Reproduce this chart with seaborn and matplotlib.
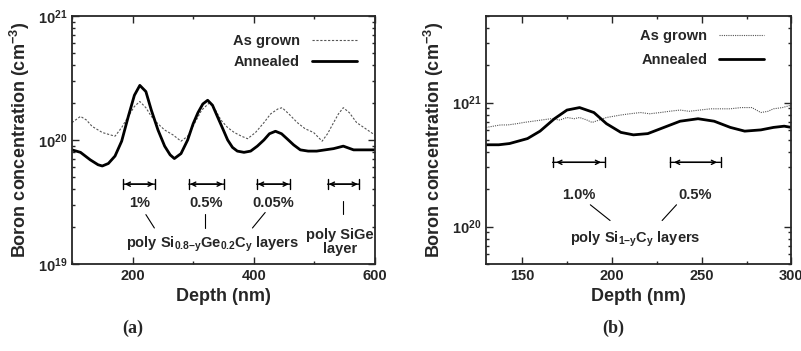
import numpy as np
import pandas as pd
import matplotlib
matplotlib.use("Agg")
import matplotlib.pyplot as plt
import seaborn as sns
from matplotlib.ticker import MultipleLocator, LogLocator, NullFormatter

# panel (a): depth (nm) and log10 of boron concentration
a_ann_x = [100, 114, 130, 143, 150, 160, 171, 182, 193, 203, 212, 222, 231, 242, 253, 262, 269, 280, 291,
           300, 308, 316, 324, 332, 340, 349, 357, 365, 373, 384, 395, 406, 417, 426, 436, 446, 455, 466,
           477, 490, 504, 518, 532, 548, 565, 582, 600]
a_ann_y = [19.92, 19.90, 19.84, 19.80, 19.79, 19.81, 19.87, 19.99, 20.19, 20.36, 20.44, 20.39, 20.24, 20.08,
           19.95, 19.88, 19.85, 19.89, 20.00, 20.13, 20.22, 20.29, 20.32, 20.28, 20.19, 20.09, 20.00, 19.94,
           19.91, 19.90, 19.91, 19.95, 20.00, 20.05, 20.07, 20.05, 20.01, 19.96, 19.92, 19.91, 19.91, 19.92,
           19.93, 19.95, 19.92, 19.92, 19.92]
a_grown_x = [100, 114, 124, 133, 150, 171, 182, 193, 203, 212, 222, 231, 242, 253, 267, 280, 291, 302, 314,
             327, 337, 346, 357, 368, 380, 390, 403, 417, 428, 440, 447, 458, 472, 485, 499, 513, 522, 532,
             540, 548, 558, 570, 585, 600]
a_grown_y = [20.14, 20.19, 20.16, 20.11, 20.06, 20.03, 20.10, 20.19, 20.27, 20.31, 20.26, 20.19, 20.13, 20.08,
             20.04, 19.99, 20.03, 20.13, 20.24, 20.30, 20.24, 20.16, 20.10, 20.06, 20.03, 20.01, 20.06, 20.14,
             20.21, 20.25, 20.26, 20.21, 20.14, 20.09, 20.06, 19.99, 20.05, 20.14, 20.21, 20.26, 20.22, 20.14,
             20.09, 20.04]

# panel (b)
b_ann_x = [130, 137, 143, 148, 153, 160, 168, 175, 182, 190, 197, 205, 212, 220, 229, 238, 248, 257,
           266, 274, 283, 290, 296, 300]
b_ann_y = [20.66, 20.66, 20.67, 20.69, 20.71, 20.77, 20.87, 20.94, 20.96, 20.92, 20.83, 20.76, 20.74,
           20.75, 20.80, 20.85, 20.87, 20.85, 20.80, 20.77, 20.78, 20.80, 20.81, 20.80]
b_grown_x = [130, 134, 138, 142, 147, 151, 156, 161, 166, 171, 175, 179, 182, 186, 189, 193, 197, 201,
             205, 210, 216, 221, 227, 232, 238, 243, 249, 255, 261, 266, 272, 278, 283, 287, 290, 295, 300]
b_grown_y = [20.80, 20.81, 20.82, 20.82, 20.83, 20.84, 20.85, 20.86, 20.87, 20.86, 20.88, 20.87, 20.88,
             20.86, 20.84, 20.86, 20.88, 20.89, 20.90, 20.91, 20.92, 20.91, 20.92, 20.93, 20.94, 20.93,
             20.94, 20.95, 20.95, 20.95, 20.96, 20.96, 20.92, 20.93, 20.95, 20.96, 20.98]

a_brackets = [(185, 237), (293, 351), (405, 460), (522, 574)]
a_labels = ["1%", "0.5%", "0.05%"]
b_brackets = [(167, 196), (232.6, 260.6)]
b_labels = ["1.0%", "0.5%"]

sns.set_style("ticks")
plt.rcParams['font.family'] = ['Liberation Sans', 'DejaVu Sans']
plt.rcParams['font.weight'] = 'bold'
plt.rcParams['mathtext.fontset'] = 'custom'
plt.rcParams['mathtext.rm'] = 'Liberation Sans:bold'
plt.rcParams['mathtext.it'] = 'Liberation Sans:bold'
plt.rcParams['mathtext.bf'] = 'Liberation Sans:bold'
plt.rcParams['mathtext.default'] = 'rm'

fig = plt.figure(figsize=(8.01, 3.51), dpi=100)
ax1 = fig.add_axes([0.0899, 0.248, 0.378, 0.7066])
ax2 = fig.add_axes([0.607, 0.248, 0.381, 0.7066])


def draw(ax, gx, gy, anx, any_, grown_ls, grown_lw, anchor, spacing):
    dg = pd.DataFrame({"Depth": gx, "B": np.power(10.0, gy)})
    da = pd.DataFrame({"Depth": anx, "B": np.power(10.0, any_)})
    sns.lineplot(data=dg, x="Depth", y="B", ax=ax, color="#555555", lw=grown_lw,
                 linestyle=grown_ls, label="As grown")
    sns.lineplot(data=da, x="Depth", y="B", ax=ax, color="black", lw=2.0, label="Annealed")
    ax.set_yscale("log")
    for s in ax.spines.values():
        s.set_linewidth(1.3)
    ax.tick_params(direction="in", which="both", top=True, right=True, labelsize=10.5, width=1.0)
    ax.tick_params(which="major", length=5)
    ax.tick_params(which="minor", length=2.5)
    ax.yaxis.set_minor_locator(LogLocator(base=10, subs=np.arange(2, 10)))
    ax.yaxis.set_minor_formatter(NullFormatter())
    ax.set_xlabel("Depth (nm)", fontsize=13, fontweight="bold")
    ax.set_ylabel("Boron concentration (cm$^{-3}$)", fontsize=13, fontweight="bold")
    leg = ax.legend(loc="upper right", bbox_to_anchor=anchor, frameon=False, fontsize=10.5,
                    markerfirst=False, handlelength=3.1, borderaxespad=0, labelspacing=spacing)
    return leg


def bracket(ax, x0, x1, y):
    ax.annotate("", xy=(x0, y), xytext=(x1, y),
                arrowprops=dict(arrowstyle="|-|,widthA=0.35,widthB=0.35", lw=1.0, color="black",
                                shrinkA=0, shrinkB=0))
    ax.annotate("", xy=(x0 + 2, y), xytext=(x1 - 2, y),
                arrowprops=dict(arrowstyle="<->,head_length=0.3,head_width=0.15", lw=1.0,
                                color="black", shrinkA=0, shrinkB=0))


# (a)
draw(ax1, a_grown_x, a_grown_y, a_ann_x, a_ann_y, (0, (2, 1.5)), 0.8, (0.96, 0.95), 0.45)
ax1.set_xlim(100, 600)
ax1.set_ylim(1e19, 1e21)
ax1.xaxis.set_major_locator(MultipleLocator(200))
ax1.xaxis.set_minor_locator(MultipleLocator(100))
for x0, x1 in a_brackets:
    bracket(ax1, x0, x1, 4.4e19)
for (x0, x1), lab in zip(a_brackets, a_labels):
    ax1.text((x0 + x1) / 2, 3.1e19, lab, ha="center", va="center", fontsize=10.5)
ax1.plot([222, 236], [2.5e19, 1.95e19], color="black", lw=0.8)
ax1.plot([320, 320], [2.55e19, 1.95e19], color="black", lw=0.8)
ax1.plot([419, 398], [2.6e19, 1.95e19], color="black", lw=0.8)
ax1.plot([548, 548], [3.2e19, 2.55e19], color="black", lw=0.8)
ax1.text(332, 1.45e19, "poly Si$_{0.8{-}y}$Ge$_{0.2}$C$_y$ layers", ha="center", va="center",
         fontsize=10.5)
ax1.text(542, 1.5e19, "poly SiGe\nlayer", ha="center", va="center", fontsize=10.5,
         linespacing=1.0)

# (b)
draw(ax2, b_grown_x, b_grown_y, b_ann_x, b_ann_y, (0, (1, 1)), 0.8, (0.93, 0.97), 0.65)
ax2.set_xlim(130, 300)
ax2.set_ylim(5e19, 5e21)
ax2.xaxis.set_major_locator(MultipleLocator(50))
ax2.xaxis.set_minor_locator(MultipleLocator(25))
for x0, x1 in b_brackets:
    bracket(ax2, x0, x1, 3.3e20)
for (x0, x1), lab in zip(b_brackets, b_labels):
    ax2.text((x0 + x1) / 2, 1.8e20, lab, ha="center", va="center", fontsize=10.5)
ax2.plot([188, 199], [1.5e20, 1.12e20], color="black", lw=0.8)
ax2.plot([236, 228], [1.5e20, 1.12e20], color="black", lw=0.8)
ax2.text(213, 7.9e19, "poly Si$_{1{-}y}$C$_y$ layers", ha="center", va="center", fontsize=10.5)

fig.text(133 / 801, 1 - 328 / 351, "(a)", ha="center", va="center", fontsize=13,
         family=["Liberation Serif"], fontweight="bold")
fig.text(613 / 801, 1 - 328 / 351, "(b)", ha="center", va="center", fontsize=13,
         family=["Liberation Serif"], fontweight="bold")

fig.savefig("out.png", dpi=100)
